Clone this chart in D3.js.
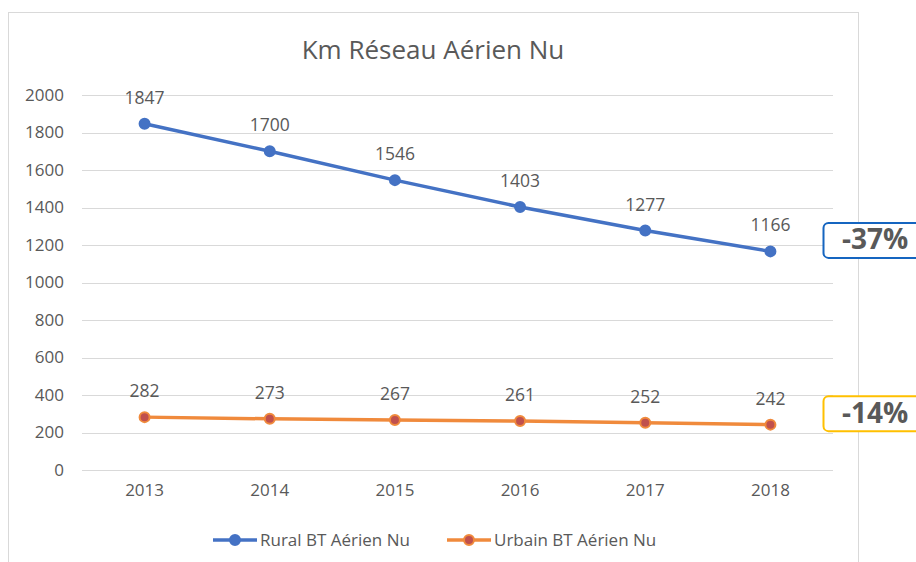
<!DOCTYPE html>
<html>
<head>
<meta charset="utf-8">
<script src="https://cdn.jsdelivr.net/npm/d3@7"></script>
<style>
  body { margin: 0; background: #fff; }
  text { font-family: "Open Sans", "Noto Sans", sans-serif; fill: #595959; }
</style>
</head>
<body>
<svg id="chart" width="916" height="562"></svg>
<script>
const years = ["2013", "2014", "2015", "2016", "2017", "2018"];
const rural = [1847, 1700, 1546, 1403, 1277, 1166];
const urbain = [282, 273, 267, 261, 252, 242];
const yTicks = [0, 200, 400, 600, 800, 1000, 1200, 1400, 1600, 1800, 2000];
const seriesNames = ["Rural BT Aérien Nu", "Urbain BT Aérien Nu"];
const badges = ["-37%", "-14%"];

const MARGIN = { top: 95, bottom: 92, left: 82, right: 83 };
const W = 916, H = 562;

const svg = d3.select("#chart");

// chart frame
svg.append("rect")
  .attr("x", 8.5).attr("y", 12.5)
  .attr("width", 850).attr("height", 560)
  .attr("fill", "#fff").attr("stroke", "#d9d9d9");

svg.append("text")
  .attr("x", 433).attr("y", 59)
  .attr("text-anchor", "middle")
  .attr("font-size", 26)
  .text("Km Réseau Aérien Nu");

const x = d3.scaleBand()
  .domain(years)
  .range([MARGIN.left, W - MARGIN.right]);

const y = d3.scaleLinear()
  .domain([0, 2000])
  .range([H - MARGIN.bottom, MARGIN.top]);

const cx = (d) => x(d) + x.bandwidth() / 2;

// gridlines
svg.append("g")
  .selectAll("line")
  .data(yTicks)
  .join("line")
  .attr("x1", MARGIN.left).attr("x2", W - MARGIN.right)
  .attr("y1", (d) => Math.round(y(d)) + 0.5)
  .attr("y2", (d) => Math.round(y(d)) + 0.5)
  .attr("stroke", "#d9d9d9");

const yAxis = svg.append("g")
  .attr("transform", `translate(${MARGIN.left - 18}, 0)`)
  .call(d3.axisLeft(y).tickValues(yTicks).tickFormat(d3.format("d")).tickSize(0).tickPadding(0));
yAxis.select(".domain").remove();
yAxis.selectAll("text").attr("font-size", 17).style("fill", "#595959")
  .style("font-family", '"Open Sans", sans-serif');

const xAxis = svg.append("g")
  .attr("transform", `translate(0, ${H - MARGIN.bottom + 14})`)
  .call(d3.axisBottom(x).tickSize(0).tickPadding(0));
xAxis.select(".domain").remove();
xAxis.selectAll("text").attr("font-size", 17).attr("dy", "0.71em").style("fill", "#595959")
  .style("font-family", '"Open Sans", sans-serif');

const series = [
  { name: seriesNames[0], values: rural, line: "#4472c4", fill: "#4472c4", stroke: "#4472c4" },
  { name: seriesNames[1], values: urbain, line: "#f08a3c", fill: "#c0504d", stroke: "#f08a3c" },
];

const line = d3.line()
  .x((d, i) => cx(years[i]))
  .y((d) => y(d));

series.forEach((s) => {
  svg.append("path")
    .attr("d", line(s.values))
    .attr("fill", "none")
    .attr("stroke", s.line)
    .attr("stroke-width", 3.5);

  svg.append("g")
    .selectAll("circle")
    .data(s.values)
    .join("circle")
    .attr("cx", (d, i) => cx(years[i]))
    .attr("cy", (d) => y(d))
    .attr("r", 5)
    .attr("fill", s.fill)
    .attr("stroke", s.stroke)
    .attr("stroke-width", 2);

  svg.append("g")
    .selectAll("text")
    .data(s.values)
    .join("text")
    .attr("x", (d, i) => cx(years[i]))
    .attr("y", (d) => y(d) - 20)
    .attr("text-anchor", "middle")
    .attr("font-size", 17.5)
    .text((d) => d);
});

// legend
const legend = svg.append("g").attr("transform", "translate(0, 540)");
[213, 447].forEach((lx, i) => {
  const s = series[i];
  legend.append("line")
    .attr("x1", lx).attr("x2", lx + 44)
    .attr("stroke", s.line).attr("stroke-width", 3.5);
  legend.append("circle")
    .attr("cx", lx + 22).attr("r", 5)
    .attr("fill", s.fill).attr("stroke", s.stroke).attr("stroke-width", 2);
  legend.append("text")
    .attr("x", lx + 47).attr("y", 6)
    .attr("font-size", 17)
    .text(s.name);
});

// change badges next to the last points
const last = years.length - 1;
[{ v: rural[last], color: "#1565c0" }, { v: urbain[last], color: "#ffc000" }].forEach((b, i) => {
  const by = y(b.v) - 12;
  svg.append("rect")
    .attr("x", 823.5).attr("y", by - 16.5)
    .attr("width", 110).attr("height", 35)
    .attr("rx", 5)
    .attr("fill", "#fff")
    .attr("stroke", b.color)
    .attr("stroke-width", 2);
  svg.append("text")
    .attr("x", 842).attr("y", by + 10)
    .attr("font-size", 28)
    .attr("font-weight", "bold")
    .text(badges[i]);
});
</script>
</body>
</html>
